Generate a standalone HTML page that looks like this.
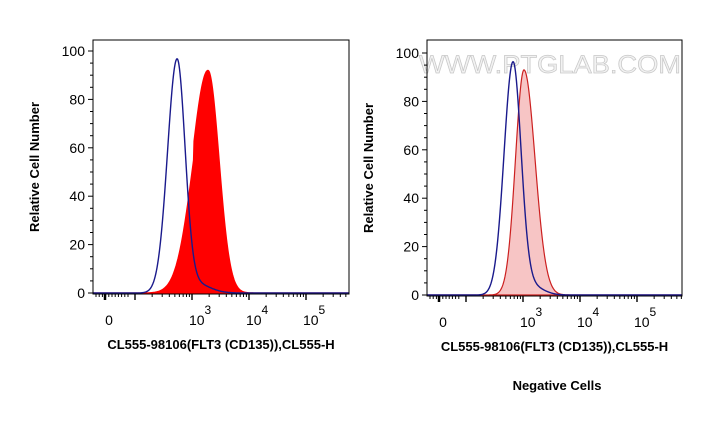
<!DOCTYPE html>
<html><head><style>
body{margin:0;background:#fff;}
svg text{font-family:"Liberation Sans",sans-serif;}
</style></head><body>
<svg id="s" width="703" height="430" xmlns="http://www.w3.org/2000/svg">
<rect width="703" height="430" fill="#fff"/>
<text x="419" y="73" font-size="25" fill="#f2f2f2" stroke="#c8c8c8" stroke-width="0.7" textLength="262" lengthAdjust="spacingAndGlyphs">WWW.PTGLAB.COM</text>
<text x="557" y="390" font-size="13" font-weight="bold" text-anchor="middle">Negative Cells</text>
<g id="g"></g>
</svg>
<script>
function asym(x,m,sl,sr,h){var s=x<m?sl:sr;return h*Math.exp(-0.5*Math.pow((x-m)/s,2));}
var out='';
function panel(L,R,T,B,y0,y100,zero,dec3,blue,red,redFill,redStroke){
 var k=(y0-y100)/100;
 function path(f,a,b){var d='M'+a+','+y0;for(var x=a;x<=b;x+=0.5){d+=' L'+x+','+(y0-f(x)*k).toFixed(1);}d+=' L'+b+','+y0+' Z';return d;}
 out+='<path d="'+path(red,L,R)+'" fill="'+redFill+'" stroke="'+redStroke+'" stroke-width="1.2"/>';
 var d='M'+L+','+y0;for(var x=L;x<=R;x+=0.5){d+=' L'+x+','+(y0-blue(x)*k).toFixed(1);}
 out+='<path d="'+d+'" fill="none" stroke="#1a1a8c" stroke-width="1.4"/>';
 out+='<rect x="'+L+'" y="'+T+'" width="'+(R-L)+'" height="'+(B-T)+'" fill="none" stroke="#000" stroke-width="1"/>';
 for(var v=0;v<=100;v+=5){var y=y0-v*k;var len=v%20==0?5:3;out+='<line x1="'+(L-len)+'" y1="'+y+'" x2="'+L+'" y2="'+y+'" stroke="#000"/>';
  if(v%20==0)out+='<text x="'+(L-8)+'" y="'+(y+5)+'" font-size="14" text-anchor="end">'+v+'</text>';}
 var dd=57;
 for(var e=0;e<3;e++){var base=dec3+e*dd;out+='<line x1="'+base+'" y1="'+B+'" x2="'+base+'" y2="'+(B+6)+'" stroke="#000" stroke-width="1.4"/>';
  for(var m=2;m<=9;m++){var xx=base+Math.log10(m)*dd;if(xx<R)out+='<line x1="'+xx+'" y1="'+B+'" x2="'+xx+'" y2="'+(B+3)+'" stroke="#000"/>';}
  out+='<text x="'+(base-3)+'" y="'+(B+31)+'" font-size="14">10</text><text x="'+(base+12.5)+'" y="'+(B+20)+'" font-size="12">'+(3+e)+'</text>';}
 for(var m=2;m<=9;m++){var xx=dec3-dd+Math.log10(m)*dd;out+='<line x1="'+xx+'" y1="'+B+'" x2="'+xx+'" y2="'+(B+3)+'" stroke="#000"/>';}
 out+='<line x1="'+(dec3-dd)+'" y1="'+B+'" x2="'+(dec3-dd)+'" y2="'+(B+6)+'" stroke="#000" stroke-width="1.4"/>';
 for(var xx=L+3;xx<dec3-dd-5;xx+=3.2){out+='<line x1="'+xx+'" y1="'+B+'" x2="'+xx+'" y2="'+(B+3)+'" stroke="#000"/>';}
 out+='<line x1="'+(zero-4)+'" y1="'+B+'" x2="'+(zero-4)+'" y2="'+(B+6)+'" stroke="#000" stroke-width="2.5"/>';
 out+='<text x="'+zero+'" y="'+(B+31)+'" font-size="14" text-anchor="middle">0</text>';
 out+='<text x="'+((L+R)/2)+'" y="'+(B+55)+'" font-size="13" font-weight="bold" text-anchor="middle">CL555-98106(FLT3 (CD135)),CL555-H</text>';
 out+='<text transform="translate('+(L-54)+','+((T+B)/2)+') rotate(-90)" font-size="13" font-weight="bold" text-anchor="middle">Relative Cell Number</text>';
}
panel(93,349,40,294,293,51,109,192,
 function(x){return asym(x,177,9.5,8,96)+asym(x,195,10,14,4);},
 function(x){return asym(x,208,16,11,92)*(x<194?0.9:1);},'#ff0000','#ff0000');
panel(427,682,40,296,295,53,443,523,
 function(x){return asym(x,513,9,8,96)+asym(x,530,8,12,4);},
 function(x){return asym(x,524,8.5,11,93);},'rgba(240,140,140,0.5)','#cc2020');
document.getElementById('g').innerHTML=out;
</script>
</body></html>
